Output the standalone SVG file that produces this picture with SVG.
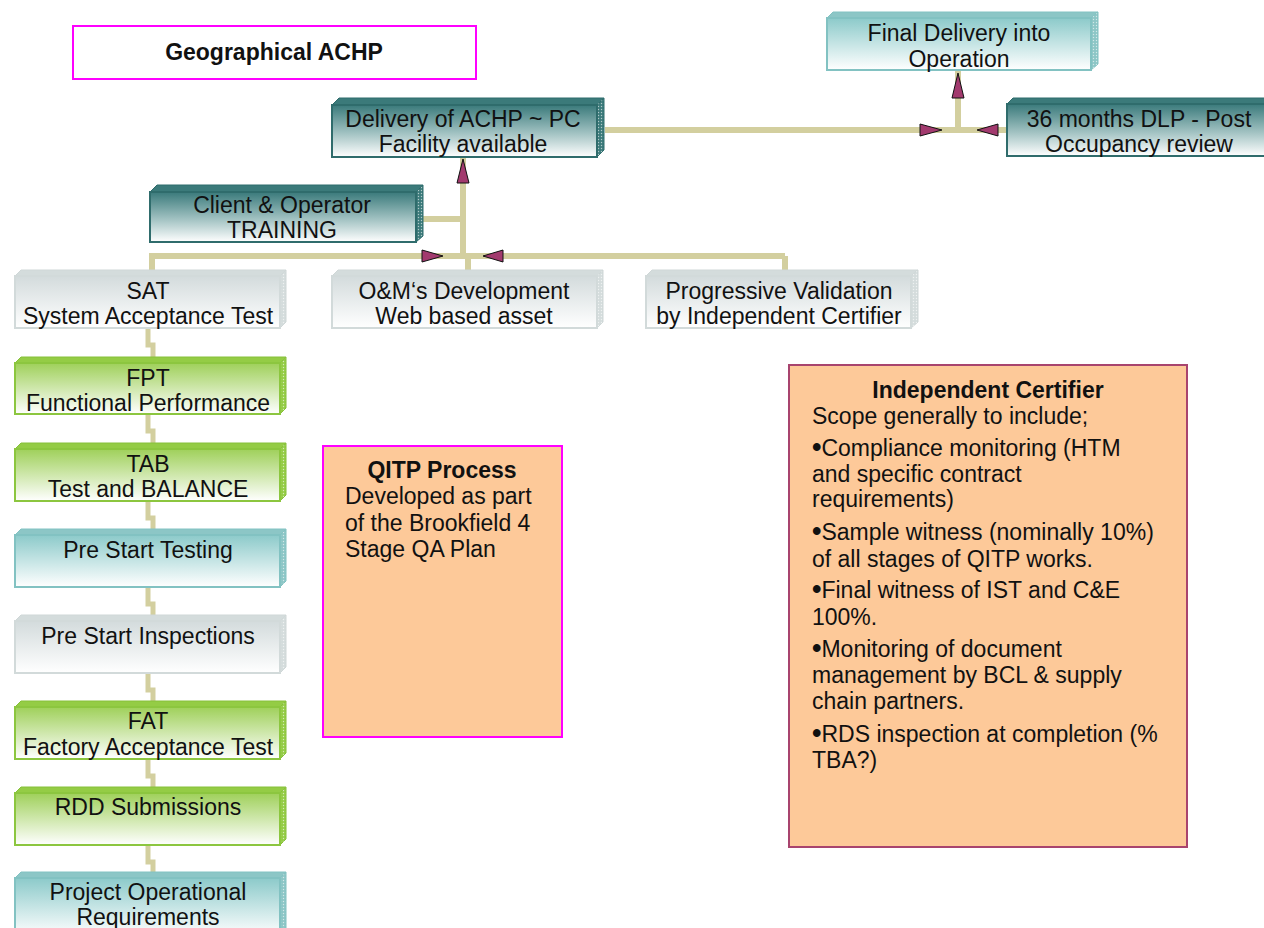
<svg xmlns="http://www.w3.org/2000/svg" width="1264" height="928" viewBox="0 0 1264 928">
  <defs>
    <linearGradient id="gDark" x1="0" y1="0" x2="0" y2="1">
      <stop offset="0" stop-color="#3a7a7b"/>
      <stop offset="0.55" stop-color="#a3c3c3"/>
      <stop offset="1" stop-color="#ffffff"/>
    </linearGradient>
    <linearGradient id="gTeal" x1="0" y1="0" x2="0" y2="1">
      <stop offset="0" stop-color="#8ccaca"/>
      <stop offset="1" stop-color="#ffffff"/>
    </linearGradient>
    <linearGradient id="gGrey" x1="0" y1="0" x2="0" y2="1">
      <stop offset="0" stop-color="#d3dbdc"/>
      <stop offset="1" stop-color="#ffffff"/>
    </linearGradient>
    <linearGradient id="gGreen" x1="0" y1="0" x2="0" y2="1">
      <stop offset="0" stop-color="#9fd05a"/>
      <stop offset="1" stop-color="#ffffff"/>
    </linearGradient>
    <pattern id="dots" width="3" height="3" patternUnits="userSpaceOnUse">
      <circle cx="1.5" cy="1.5" r="0.7" fill="#ffffff" fill-opacity="0.6"/>
    </pattern>
  </defs>
  <style>
    text { font-family: "Liberation Sans", Arial, sans-serif; font-size: 23px; fill: #111; }
    .c { text-anchor: middle; }
    .b { font-weight: bold; }
    .bul { font-size: 27px; font-weight: bold; }
    .dark .front { fill: url(#gDark); stroke: #2f6c6c; stroke-width: 2; }
    .dark .top, .dark .side { fill: #3b7a7a; stroke: #2f6c6c; stroke-width: 1; }
    .teal .front { fill: url(#gTeal); stroke: #82c2c2; stroke-width: 2; }
    .teal .top, .teal .side { fill: #8cc6c6; stroke: #82c2c2; stroke-width: 1; }
    .grey .front { fill: url(#gGrey); stroke: #d2dada; stroke-width: 2; }
    .grey .top, .grey .side { fill: #d4dcdc; stroke: #cfd7d7; stroke-width: 1; }
    .green .front { fill: url(#gGreen); stroke: #8cc63f; stroke-width: 2; }
    .green .top, .green .side { fill: #94cc45; stroke: #86c03a; stroke-width: 1; }
    .tex { fill: url(#dots); stroke: none; }
    .wire { fill: none; stroke: #d3cf9f; stroke-width: 6; }
    .step { fill: none; stroke: #d3cf9f; stroke-width: 5; }
    .arrow { fill: #a23a6e; stroke: #111; stroke-width: 1; }
    .note { fill: #fdc999; stroke-width: 2; }
  </style>

  <!-- connectors -->
  <g id="connectors">
    <path class="wire" d="M605,130 H1007"/>
    <path class="wire" d="M958,130 V70"/>
    <path class="wire" d="M463,157 V256"/>
    <path class="wire" d="M416,219 H463"/>
    <path class="wire" d="M152,256 H785"/>
    <path class="wire" d="M152,253 V276"/>
    <path class="wire" d="M468,256 V276"/>
    <path class="wire" d="M785,256 V275"/>
    <path class="step" d="M148,328 V345 H153 V363"/>
    <path class="step" d="M148,414 V431 H153 V449"/>
    <path class="step" d="M148,501 V518 H153 V535"/>
    <path class="step" d="M148,587 V604 H153 V621"/>
    <path class="step" d="M148,673 V690 H153 V707"/>
    <path class="step" d="M148,759 V776 H153 V793"/>
    <path class="step" d="M148,845 V862 H153 V878"/>
    <!-- arrowheads -->
    <path class="arrow" d="M920,124 L942,130 L920,136 Z"/>
    <path class="arrow" d="M998,124 L977,130 L998,136 Z"/>
    <path class="arrow" d="M952,98 L958,73 L964,98 Z"/>
    <path class="arrow" d="M457,183 L463,159 L469,183 Z"/>
    <path class="arrow" d="M422,250 L443,256 L422,262 Z"/>
    <path class="arrow" d="M503,250 L483,256 L503,262 Z"/>
  </g>

  <!-- title -->
  <g id="geo-achp">
    <rect x="73" y="26" width="403" height="53" fill="#ffffff" stroke="#ff00ff" stroke-width="2"/>
    <text class="c b" x="274" y="60">Geographical ACHP</text>
  </g>

  <g id="final-delivery" class="teal">
    <polygon class="top" points="827,18 833,12 1098,12 1091,18"/>
    <polygon class="side" points="1091,18 1098,12 1098,64 1091,70"/>
    <polygon class="tex" points="1091,18 1098,12 1098,64 1091,70"/>
    <rect class="front" x="827" y="18" width="264" height="52"/>
    <text class="c" x="959" y="41">Final Delivery into</text>
    <text class="c" x="959" y="67">Operation</text>
  </g>

  <g id="delivery-pc" class="dark">
    <polygon class="top" points="332,105 339,98 604,98 597,105"/>
    <polygon class="side" points="597,105 604,98 604,150 597,157"/>
    <polygon class="tex" points="597,105 604,98 604,150 597,157"/>
    <rect class="front" x="332" y="105" width="265" height="52"/>
    <text class="c" x="463" y="127">Delivery of ACHP ~ PC</text>
    <text class="c" x="463" y="152">Facility available</text>
  </g>

  <g id="dlp-review" class="dark">
    <polygon class="top" points="1007,104 1013,98 1270,98 1270,104"/>
    <rect class="front" x="1007" y="104" width="270" height="52"/>
    <text class="c" x="1139" y="127">36 months DLP - Post</text>
    <text class="c" x="1139" y="152">Occupancy review</text>
  </g>

  <g id="training" class="dark">
    <polygon class="top" points="150,192 157,185 423,185 416,192"/>
    <polygon class="side" points="416,192 423,185 423,236 416,242"/>
    <polygon class="tex" points="416,192 423,185 423,236 416,242"/>
    <rect class="front" x="150" y="192" width="266" height="50"/>
    <text class="c" x="282" y="213">Client &amp; Operator</text>
    <text class="c" x="282" y="238">TRAINING</text>
  </g>

  <g id="sat" class="grey">
    <polygon class="top" points="15,276 21,270 286,270 280,276"/>
    <polygon class="side" points="280,276 286,270 286,322 280,328"/>
    <polygon class="tex" points="280,276 286,270 286,322 280,328"/>
    <rect class="front" x="15" y="276" width="265" height="52"/>
    <text class="c" x="148" y="299">SAT</text>
    <text class="c" x="148" y="324">System Acceptance Test</text>
  </g>

  <g id="om-development" class="grey">
    <polygon class="top" points="332,276 338,270 603,270 597,276"/>
    <polygon class="side" points="597,276 603,270 603,322 597,328"/>
    <polygon class="tex" points="597,276 603,270 603,322 597,328"/>
    <rect class="front" x="332" y="276" width="265" height="52"/>
    <text class="c" x="464" y="299">O&amp;M‘s Development</text>
    <text class="c" x="464" y="324">Web based asset</text>
  </g>

  <g id="progressive-validation" class="grey">
    <polygon class="top" points="646,276 652,270 918,270 911,276"/>
    <polygon class="side" points="911,276 918,270 918,322 911,328"/>
    <polygon class="tex" points="911,276 918,270 918,322 911,328"/>
    <rect class="front" x="646" y="276" width="265" height="52"/>
    <text class="c" x="779" y="299">Progressive Validation</text>
    <text class="c" x="779" y="324">by Independent Certifier</text>
  </g>

  <g id="fpt" class="green">
    <polygon class="top" points="15,363 21,357 286,357 280,363"/>
    <polygon class="side" points="280,363 286,357 286,408 280,414"/>
    <polygon class="tex" points="280,363 286,357 286,408 280,414"/>
    <rect class="front" x="15" y="363" width="265" height="51"/>
    <text class="c" x="148" y="386">FPT</text>
    <text class="c" x="148" y="411">Functional Performance</text>
  </g>

  <g id="tab" class="green">
    <polygon class="top" points="15,449 21,443 286,443 280,449"/>
    <polygon class="side" points="280,449 286,443 286,495 280,501"/>
    <polygon class="tex" points="280,449 286,443 286,495 280,501"/>
    <rect class="front" x="15" y="449" width="265" height="52"/>
    <text class="c" x="148" y="472">TAB</text>
    <text class="c" x="148" y="497">Test and BALANCE</text>
  </g>

  <g id="pre-start-testing" class="teal">
    <polygon class="top" points="15,535 21,529 286,529 280,535"/>
    <polygon class="side" points="280,535 286,529 286,581 280,587"/>
    <polygon class="tex" points="280,535 286,529 286,581 280,587"/>
    <rect class="front" x="15" y="535" width="265" height="52"/>
    <text class="c" x="148" y="558">Pre Start Testing</text>
  </g>

  <g id="pre-start-inspections" class="grey">
    <polygon class="top" points="15,621 21,615 286,615 280,621"/>
    <polygon class="side" points="280,621 286,615 286,667 280,673"/>
    <polygon class="tex" points="280,621 286,615 286,667 280,673"/>
    <rect class="front" x="15" y="621" width="265" height="52"/>
    <text class="c" x="148" y="644">Pre Start Inspections</text>
  </g>

  <g id="fat" class="green">
    <polygon class="top" points="15,707 21,701 286,701 280,707"/>
    <polygon class="side" points="280,707 286,701 286,753 280,759"/>
    <polygon class="tex" points="280,707 286,701 286,753 280,759"/>
    <rect class="front" x="15" y="707" width="265" height="52"/>
    <text class="c" x="148" y="729">FAT</text>
    <text class="c" x="148" y="755">Factory Acceptance Test</text>
  </g>

  <g id="rdd-submissions" class="green">
    <polygon class="top" points="15,793 21,787 286,787 280,793"/>
    <polygon class="side" points="280,793 286,787 286,839 280,845"/>
    <polygon class="tex" points="280,793 286,787 286,839 280,845"/>
    <rect class="front" x="15" y="793" width="265" height="52"/>
    <text class="c" x="148" y="815">RDD Submissions</text>
  </g>

  <g id="project-requirements" class="teal">
    <polygon class="top" points="15,878 21,872 286,872 280,878"/>
    <polygon class="side" points="280,878 286,872 286,930 280,936"/>
    <polygon class="tex" points="280,878 286,872 286,930 280,936"/>
    <rect class="front" x="15" y="878" width="265" height="58"/>
    <text class="c" x="148" y="900">Project Operational</text>
    <text class="c" x="148" y="925">Requirements</text>
  </g>

  <g id="qitp-process">
    <rect class="note" x="323" y="446" width="239" height="291" stroke="#ff00ff"/>
    <text class="c b" x="442" y="478">QITP Process</text>
    <text x="345" y="504">Developed as part</text>
    <text x="345" y="531">of the Brookfield 4</text>
    <text x="345" y="557">Stage QA Plan</text>
  </g>

  <g id="independent-certifier">
    <rect class="note" x="789" y="365" width="398" height="482" stroke="#a8446e"/>
    <text class="c b" x="988" y="398">Independent Certifier</text>
    <text x="812" y="424">Scope generally to include;</text>
    <text x="812" y="456"><tspan class="bul">•</tspan>Compliance monitoring (HTM</text>
    <text x="812" y="482">and specific contract</text>
    <text x="812" y="507">requirements)</text>
    <text x="812" y="540"><tspan class="bul">•</tspan>Sample witness (nominally 10%)</text>
    <text x="812" y="567">of all stages of QITP works.</text>
    <text x="812" y="598"><tspan class="bul">•</tspan>Final witness of IST and C&amp;E</text>
    <text x="812" y="625">100%.</text>
    <text x="812" y="657"><tspan class="bul">•</tspan>Monitoring of document</text>
    <text x="812" y="683">management by BCL &amp; supply</text>
    <text x="812" y="709">chain partners.</text>
    <text x="812" y="742"><tspan class="bul">•</tspan>RDS inspection at completion (%</text>
    <text x="812" y="768">TBA?)</text>
  </g>
</svg>
